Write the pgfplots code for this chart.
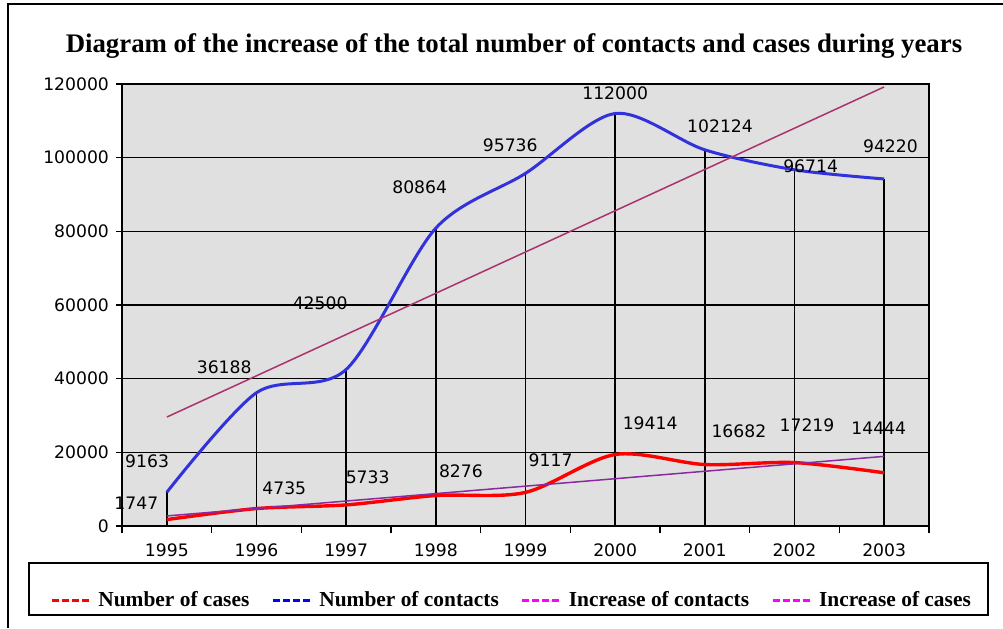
\documentclass[border=0pt]{standalone}
\usepackage{fontspec}
\setmainfont{Liberation Serif}
\newfontfamily\verd{DejaVu Sans}
\usepackage{pgfplots}
\usepackage{pgfplotstable}
\pgfplotsset{compat=1.18}

\definecolor{plotbg}{RGB}{224,224,224}
\definecolor{contactblue}{RGB}{50,50,220}
\definecolor{trendcont}{RGB}{170,50,110}
\definecolor{trendcase}{RGB}{140,40,160}
\definecolor{legmag}{RGB}{255,0,255}

% year index 0..8 = 1995..2003
\pgfplotstableread{
x cases contacts
0 1747 9163
1 4735 36188
2 5733 42500
3 8276 80864
4 9117 95736
5 19414 112000
6 16682 102124
7 17219 96714
8 14444 94220
}\data

\begin{document}
\begin{tikzpicture}
\useasboundingbox (0,0) rectangle (501.5pt,314pt);
% outer frame (cut by the page on right and bottom)
\draw[line width=1.2pt] (4pt,0) -- (4pt,312pt) -- (501.5pt,312pt);
\node[font=\bfseries\fontsize{13.4}{15}\selectfont] at (257pt,291pt)
  {Diagram of the increase of the total number of contacts and cases during years};
% legend frame
\draw[line width=1pt] (14.5pt,6.5pt) rectangle (494pt,32.5pt);

\begin{axis}[
  at={(61pt,51pt)}, anchor=south west,
  width=403.5pt, height=221pt, scale only axis,
  xmin=-0.5, xmax=8.5, ymin=0, ymax=120000,
  clip mode=individual,
  axis background/.style={fill=plotbg},
  axis line style={black, line width=0.6pt},
  xtick={0,...,8},
  xticklabels={1995,1996,1997,1998,1999,2000,2001,2002,2003},
  major x tick style={draw=none},
  minor xtick={-0.5,0.5,...,8.5},
  minor x tick style={black, line width=0.6pt},
  minor tick length=3.5pt,
  ytick={0,20000,...,120000},
  y tick style={black, line width=0.6pt},
  major tick length=3pt,
  tick align=outside,
  xtick pos=left, ytick pos=left,
  ymajorgrids=true,
  major grid style={black, line width=0.6pt},
  scaled y ticks=false,
  /pgf/number format/fixed,
  /pgf/number format/set thousands separator={},
  /pgf/number format/assume math mode=true,
  ticklabel style={font=\verd\fontsize{8.6}{10}\selectfont},
  xticklabel style={yshift=-2.5pt},
  legend columns=4,
  legend style={at={(axis description cs:0,0)}, anchor=west,
    xshift=-39pt, yshift=-37pt, draw=none, fill=none,
    font=\bfseries\fontsize{10.7}{12}\selectfont,
    /tikz/every odd column/.append style={column sep=0.5pt},
    /tikz/every even column/.append style={column sep=9pt}},
]
% drop lines
\addplot[forget plot, ycomb, black, line width=0.8pt, mark=none]
  table[x=x, y=contacts]{\data};

\addplot[red, line width=1.7pt, smooth, mark=none,
  legend image code/.code={\draw[red, line width=1.5pt,
    dash pattern=on 3.5pt off 1.5pt] (0pt,0pt) -- (20pt,0pt);}]
  table[x=x, y=cases]{\data};
\addlegendentry{Number of cases}

\addplot[contactblue, line width=1.5pt, smooth, mark=none,
  legend image code/.code={\draw[blue, line width=1.5pt,
    dash pattern=on 3.5pt off 1.5pt] (0pt,0pt) -- (20pt,0pt);}]
  table[x=x, y=contacts]{\data};
\addlegendentry{Number of contacts}

\addplot[trendcont, line width=0.75pt, mark=none,
  legend image code/.code={\draw[legmag, line width=1.5pt,
    dash pattern=on 3.5pt off 1.5pt] (0pt,0pt) -- (20pt,0pt);}]
  coordinates {(0,29577) (8,119202)};
\addlegendentry{Increase of contacts}

\addplot[trendcase, line width=0.75pt, mark=none,
  legend image code/.code={\draw[legmag, line width=1.5pt,
    dash pattern=on 3.5pt off 1.5pt] (0pt,0pt) -- (20pt,0pt);}]
  coordinates {(0,2734) (8,18903)};
\addlegendentry{Increase of cases}

% data labels
\begin{scope}[every node/.style={font=\verd\fontsize{8.6}{10}\selectfont, inner sep=0pt}]
\node at (axis cs:-0.22,17650) {9163};
\node at (axis cs:0.64,43170) {36188};
\node at (axis cs:1.71,60540) {42500};
\node at (axis cs:2.82,92040) {80864};
\node at (axis cs:3.83,103440) {95736};
\node at (axis cs:5.00,117560) {112000};
\node at (axis cs:6.17,108600) {102124};
\node at (axis cs:7.18,97740) {96714};
\node at (axis cs:8.07,103170) {94220};
\node at (axis cs:-0.34,6250) {1747};
\node at (axis cs:1.31,10320) {4735};
\node at (axis cs:2.24,13300) {5733};
\node at (axis cs:3.28,14930) {8276};
\node at (axis cs:4.28,17920) {9117};
\node at (axis cs:5.39,28000) {19414};
\node at (axis cs:6.38,25790) {16682};
\node at (axis cs:7.14,27420) {17219};
\node at (axis cs:7.94,26610) {14444};
\end{scope}
\end{axis}
\end{tikzpicture}
\end{document}
